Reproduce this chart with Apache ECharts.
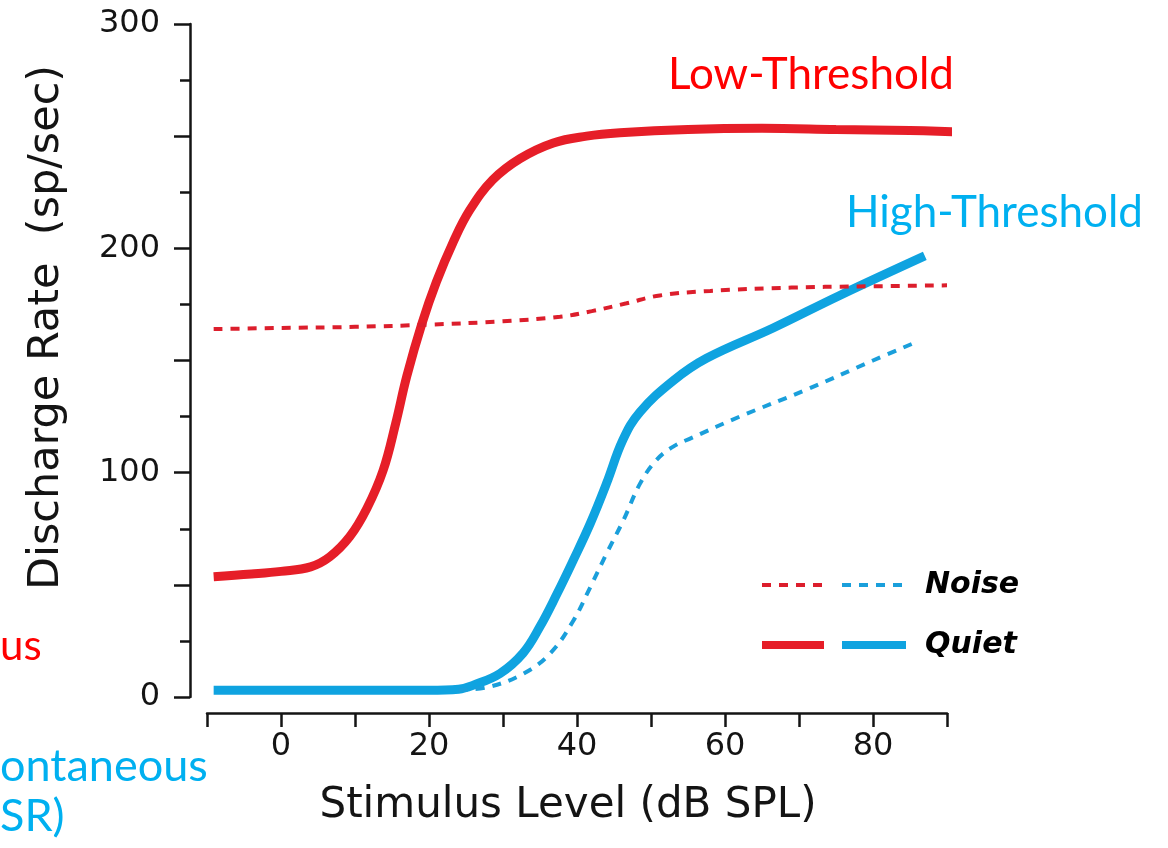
<!DOCTYPE html>
<html>
<head>
<meta charset="utf-8">
<script src="https://cdn.jsdelivr.net/npm/echarts@6/dist/echarts.min.js"></script>
<style>
  html, body { margin: 0; padding: 0; background: #fff; }
  #chart { width: 1168px; height: 848px; }
</style>
</head>
<body>
<div id="chart"></div>
<script>
// stimulus level (dB SPL), discharge rate (sp/sec)
const lowQuiet = [[-9.1,53.6],[-4,54.8],[0,56],[4,58],[6.6,62.5],[9.3,71.5],[11.6,84],[13.8,101],[15.5,122],[17,143],[19,166],[21,185],[23.3,203],[25.5,217],[28.6,230.5],[32.3,240],[36.8,247],[41.3,250],[45.8,251.5],[55,253],[65,253.5],[75,253],[85,252.5],[90.7,252]];
const lowNoise = [[-9.1,164],[0,164.5],[10,165],[20,166],[30,167.5],[37.7,169.5],[42,172],[46.7,175.5],[51.2,179],[58,181],[69,182.5],[78,183],[90,183.5]];
const highQuiet = [[-9.1,3],[0,3],[10,3],[20,3],[24,3.5],[26,5.3],[29.6,10.5],[32.7,19.5],[35,31.4],[37.3,46],[39.5,61],[41.8,77.4],[44,95.3],[46.2,114.6],[48.5,127],[53,141],[57.5,151],[66.5,164.5],[75.5,179],[87,196.6]];
const highNoise = [[24,3],[28.2,4.6],[32.8,10.5],[36.4,19.5],[39.5,34],[41.8,49],[44,64],[46.3,79],[48.5,95],[50.7,105.5],[53,111.6],[55.5,115.5],[62,125],[71,137],[80,150],[85.4,157.6]];

const red = '#e61e28';
const blue = '#0fa3e0';
const ink = '#141414';
const axisFont = 'DejaVu Sans';

const chart = echarts.init(document.getElementById('chart'));

const option = {
  animation: false,
  grid: { left: 207, right: 221, top: 24, bottom: 151 },
  xAxis: {
    type: 'value',
    min: -10,
    max: 90,
    interval: 10,
    offset: 16,
    name: 'Stimulus Level (dB SPL)',
    nameLocation: 'middle',
    nameGap: 72,
    nameTextStyle: { fontSize: 42, fontFamily: axisFont, color: ink, padding: [0, 18, 0, 0] },
    axisLine: { onZero: false, lineStyle: { color: ink, width: 2.5 } },
    axisTick: { length: 14, lineStyle: { color: ink, width: 2.5 } },
    axisLabel: {
      formatter: v => (v % 20 === 0 ? String(v) : ''),
      fontSize: 32, fontFamily: axisFont, color: ink, margin: 18
    },
    splitLine: { show: false }
  },
  yAxis: {
    type: 'value',
    min: 0,
    max: 300,
    interval: 50,
    offset: 17,
    name: 'Discharge Rate  (sp/sec)',
    nameLocation: 'middle',
    nameGap: 122,
    nameRotate: 90,
    nameTextStyle: { fontSize: 43, fontFamily: axisFont, color: ink, padding: [0, 0, 0, 66] },
    axisLine: { show: true, onZero: false, lineStyle: { color: ink, width: 2.5 } },
    axisTick: { length: 16, lineStyle: { color: ink, width: 2.5 } },
    minorTick: { show: true, splitNumber: 2, length: 10, lineStyle: { color: ink, width: 2.5 } },
    axisLabel: {
      formatter: v => (v % 100 === 0 ? String(v) : ''),
      fontSize: 32, fontFamily: axisFont, color: ink, margin: 30
    },
    splitLine: { show: false },
    minorSplitLine: { show: false }
  },
  legend: [
    {
      left: 753, top: 565, orient: 'vertical',
      itemWidth: 62, itemHeight: 16, itemGap: 30,
      selectedMode: false,
      itemStyle: { opacity: 0 },
      formatter: () => ' ',
      textStyle: { fontSize: 30, fontFamily: axisFont },
      data: [
        { name: 'Low Noise', lineStyle: { width: 4 } },
        { name: 'Low Quiet', lineStyle: { width: 8 } }
      ]
    },
    {
      left: 833, top: 565, orient: 'vertical',
      itemWidth: 64, itemHeight: 16, itemGap: 30,
      selectedMode: false,
      itemStyle: { opacity: 0 },
      formatter: n => (n === 'High Noise' ? 'Noise' : 'Quiet'),
      textStyle: { fontSize: 30, fontFamily: axisFont, fontWeight: 'bold', fontStyle: 'italic', color: '#000', padding: [0, 0, 0, 14] },
      data: [
        { name: 'High Noise', lineStyle: { width: 4 } },
        { name: 'High Quiet', lineStyle: { width: 8 } }
      ]
    }
  ],
  series: [
    {
      name: 'High Quiet', type: 'line', data: highQuiet, smooth: 0.4,
      symbol: 'none', clip: false,
      lineStyle: { color: blue, width: 9 }, itemStyle: { color: blue }
    },
    {
      name: 'High Noise', type: 'line', data: highNoise, smooth: 0.4,
      symbol: 'none', clip: false,
      lineStyle: { color: '#1a9fdb', width: 4, type: [9, 8] }, itemStyle: { color: '#1a9fdb' }
    },
    {
      name: 'Low Quiet', type: 'line', data: lowQuiet, smooth: 0.4,
      symbol: 'none', clip: false,
      lineStyle: { color: red, width: 9 }, itemStyle: { color: red }
    },
    {
      name: 'Low Noise', type: 'line', data: lowNoise, smooth: 0.4,
      symbol: 'none', clip: false,
      lineStyle: { color: '#dc1e2c', width: 4, type: [9, 8] }, itemStyle: { color: '#dc1e2c' }
    }
  ],
  graphic: [
    { type: 'text', x: 668, y: 75, style: { text: 'Low-Threshold', fill: '#ff0000', font: '44px Lato', align: 'left', verticalAlign: 'middle' } },
    { type: 'text', x: 846, y: 213, style: { text: 'High-Threshold', fill: '#00b0f0', font: '44px Lato', align: 'left', verticalAlign: 'middle' } },
    { type: 'text', x: 0, y: 646, style: { text: 'us', fill: '#ff0000', font: '42px Lato', align: 'left', verticalAlign: 'middle' } },
    { type: 'text', x: 0, y: 766, style: { text: 'ontaneous', fill: '#00b0f0', font: '45px Lato', align: 'left', verticalAlign: 'middle' } },
    { type: 'text', x: 0, y: 816, style: { text: 'SR)', fill: '#00b0f0', font: '45px Lato', align: 'left', verticalAlign: 'middle' } }
  ]
};

chart.setOption(option);
</script>
</body>
</html>
